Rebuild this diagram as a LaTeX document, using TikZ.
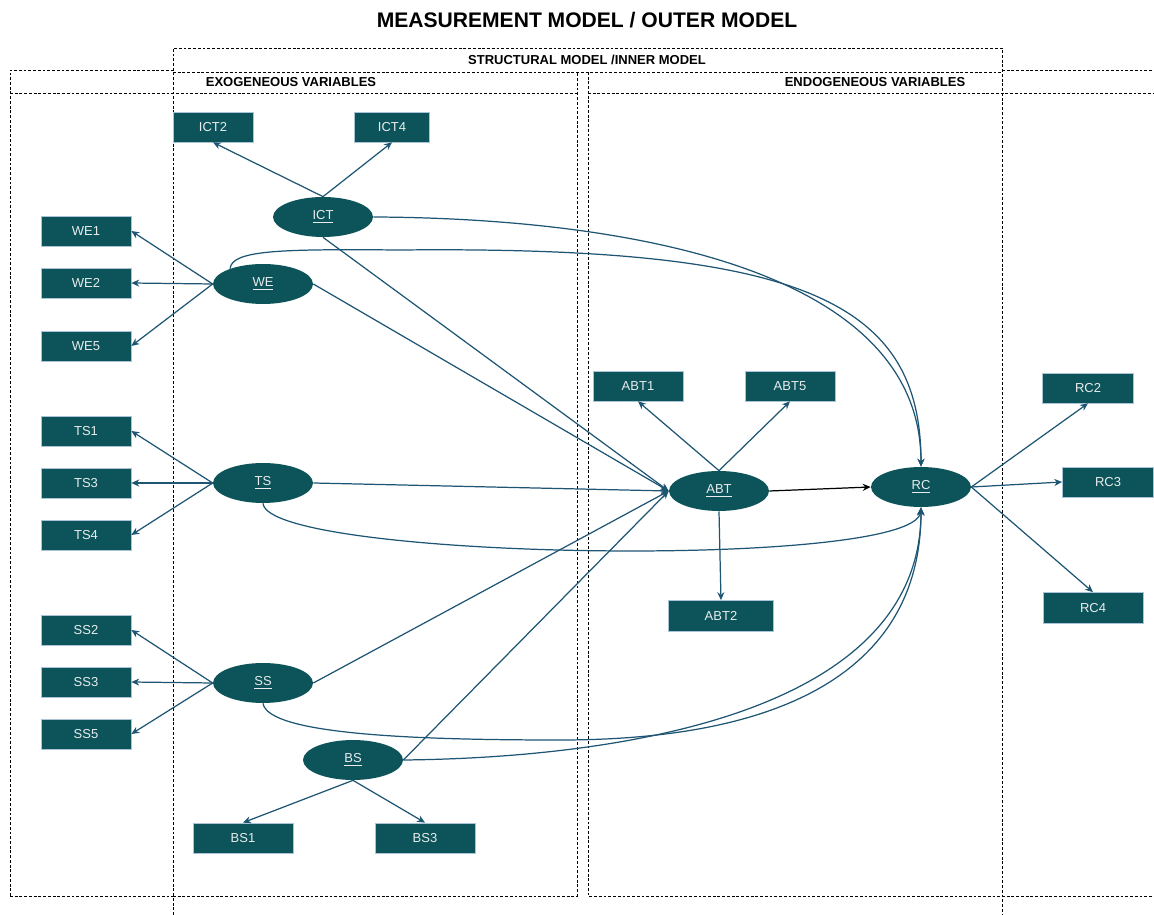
\documentclass[tikz,border=0pt]{standalone}
\usepackage{fontspec}
\setmainfont{Liberation Sans}
\usepackage{tikz}
\usetikzlibrary{shapes.geometric,arrows.meta}

\definecolor{latentfill}{RGB}{12,84,89}
\definecolor{pathcol}{RGB}{30,85,115}
\definecolor{itemborder}{RGB}{170,195,215}
\definecolor{itemtext}{RGB}{232,236,238}

\tikzset{
    indicator/.style={draw=itemborder, line width=0.4pt, fill=latentfill, text=itemtext,
        minimum width=1.8cm, minimum height=0.6cm, inner sep=0pt, font=\fontsize{7.4}{8}\selectfont},
    construct/.style={ellipse, fill=latentfill, text=itemtext, minimum width=2cm,
        minimum height=0.8cm, inner sep=0pt, font=\fontsize{7.4}{8}\selectfont},
    loading/.style={draw=pathcol, line width=0.7pt, -{Stealth[length=4.5pt,width=4pt]}},
    region/.style={draw=black, line width=0.55pt, dash pattern=on 1.6pt off 1.1pt},
    heading/.style={font=\bfseries\fontsize{7.4}{9}\selectfont},
    bigtitle/.style={font=\bfseries\fontsize{12}{14}\selectfont}
}

\begin{document}
\begin{tikzpicture}[x=0.02cm, y=-0.02cm]
            \useasboundingbox (0, 0) rectangle (1154, 915);

            \draw[region] (10, 896) -- (10, 70) -- (173, 70);
            \draw[region] (1002, 70) -- (1154, 70);
            \draw[region] (10, 93) -- (577, 93) (588, 93) -- (1154, 93);
            \draw[region] (10, 896) -- (173, 896) (1002, 896) -- (1154, 896);
            \draw[region] (173, 915) -- (173, 48) -- (1002, 48) -- (1002, 915);
            \draw[region] (173, 72) -- (1002, 72);
            \draw[region] (173, 896) -- (577, 896) -- (577, 72);
            \draw[region] (588, 72) -- (588, 896) -- (1002, 896);

            \node[bigtitle] (title) at (587, 20) {MEASUREMENT MODEL / OUTER MODEL};
            \node[heading] (inner) at (587, 60) {STRUCTURAL MODEL /INNER MODEL};
            \node[heading] (exo) at (291, 82) {EXOGENEOUS VARIABLES};
            \node[heading] (endo) at (875, 82) {ENDOGENEOUS VARIABLES};

            \node[indicator, minimum width=1.6cm] (ict2) at (213, 127) {ICT2};
            \node[indicator, minimum width=1.5cm] (ict4) at (392, 127) {ICT4};
            \node[construct] (ict) at (323, 217) {\underline{ICT}};

            \node[indicator] (we1) at (86, 231) {WE1};
            \node[indicator] (we2) at (86, 283) {WE2};
            \node[indicator] (we5) at (86, 346) {WE5};
            \node[construct] (we) at (263, 284) {\underline{WE}};

            \node[indicator] (ts1) at (86, 431) {TS1};
            \node[indicator] (ts3) at (86, 483) {TS3};
            \node[indicator] (ts4) at (86, 535) {TS4};
            \node[construct] (ts) at (263, 483) {\underline{TS}};

            \node[indicator] (ss2) at (86, 630) {SS2};
            \node[indicator] (ss3) at (86, 682) {SS3};
            \node[indicator] (ss5) at (86, 734) {SS5};
            \node[construct] (ss) at (263, 683) {\underline{SS}};

            \node[construct] (bs) at (353, 760) {\underline{BS}};
            \node[indicator, minimum width=2cm] (bs1) at (243, 838) {BS1};
            \node[indicator, minimum width=2cm] (bs3) at (425, 838) {BS3};

            \node[indicator] (abt1) at (638, 386) {ABT1};
            \node[indicator] (abt5) at (790, 386) {ABT5};
            \node[construct] (abt) at (719, 491) {\underline{ABT}};
            \node[indicator, minimum width=2.1cm, minimum height=0.62cm] (abt2) at (721, 616) {ABT2};

            \node[construct] (rc) at (921, 487) {\underline{RC}};
            \node[indicator, minimum width=1.82cm] (rc2) at (1088, 388) {RC2};
            \node[indicator, minimum width=1.82cm] (rc3) at (1108, 482) {RC3};
            \node[indicator, minimum width=2cm, minimum height=0.62cm] (rc4) at (1093, 608) {RC4};

            \draw[loading] (ict.north) -- (ict2.south);
            \draw[loading] (ict.north) -- (ict4.south);
            \draw[loading] (we.west) -- (we1.east);
            \draw[loading] (we.west) -- (we2.east);
            \draw[loading] (we.west) -- (we5.east);
            \draw[loading] (ts.west) -- (ts1.east);
            \draw[loading] (ts.west) -- (ts3.east);
            \draw[loading] (ts.west) -- (ts4.east);
            \draw[loading] (ss.west) -- (ss2.east);
            \draw[loading] (ss.west) -- (ss3.east);
            \draw[loading] (ss.west) -- (ss5.east);
            \draw[loading] (bs.south) -- (bs1.north);
            \draw[loading] (bs.south) -- (bs3.north);
            \draw[loading] (abt.north) -- (abt1.south);
            \draw[loading] (abt.north) -- (abt5.south);
            \draw[loading] (abt.south) -- (abt2.north);
            \draw[loading] (rc.east) -- (rc2.south);
            \draw[loading] (rc.east) -- (rc3.west);
            \draw[loading] (rc.east) -- (rc4.north);

            \draw[loading] (ict.south) -- (abt.west);
            \draw[loading] (we.east) -- (abt.west);
            \draw[loading] (ts.east) -- (abt.west);
            \draw[loading] (ss.east) -- (abt.west);
            \draw[loading] (bs.east) -- (abt.west);
            \draw[loading, draw=black] (abt.east) -- (rc.west);

            \draw[loading] (ict.east) .. controls (600, 218) and (921, 260) .. (rc.north);
            \draw[loading] (we.155) .. controls (232, 250) and (280, 249) .. (400, 250)
                .. controls (800, 246) and (921, 300) .. (rc.north);
            \draw[loading] (ts.south) .. controls (268, 560) and (915, 570) .. (rc.south);
            \draw[loading] (ss.south) .. controls (268, 735) and (420, 740) .. (560, 740)
                .. controls (800, 740) and (921, 660) .. (rc.south);
            \draw[loading] (bs.east) .. controls (600, 758) and (921, 720) .. (rc.south);
        \end{tikzpicture}
\end{document}
